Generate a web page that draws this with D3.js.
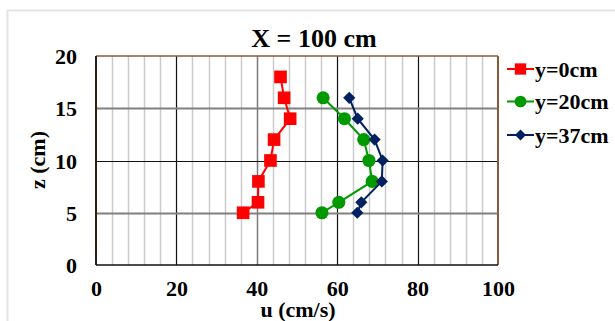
<!DOCTYPE html>
<html>
<head>
<meta charset="utf-8">
<script src="https://cdn.jsdelivr.net/npm/d3@7"></script>
<style>
  body { margin: 0; background: #fff; }
  text { font-family: "Liberation Serif", "Times New Roman", serif; font-weight: bold; fill: #000; }
</style>
</head>
<body>
<div id="chart"></div>
<script>
// values
const zY0 = [5, 6, 8, 10, 12, 14, 16, 18];
const uY0 = [36.6, 40.3, 40.4, 43.4, 44.3, 48.3, 46.8, 45.9];
const zY20 = [5, 6, 8, 10, 12, 14, 16];
const uY20 = [56.2, 60.4, 68.7, 67.9, 66.6, 61.8, 56.5];
const zY37 = [5, 6, 8, 10, 12, 14, 16];
const uY37 = [65.0, 66.0, 71.1, 71.3, 69.3, 65.1, 63.0];
const seriesNames = ['y=0cm', 'y=20cm', 'y=37cm'];
const xTicks = [0, 20, 40, 60, 80, 100];
const yTicks = [0, 5, 10, 15, 20];

const width = 615, height = 321;
const margin = { top: 56, right: 117, bottom: 56, left: 96 };

const svg = d3.select('#chart').append('svg')
  .attr('width', width).attr('height', height);

// outer chart frame (light grey)
svg.append('path')
  .attr('d', `M7.5,${height} V10.5 H${width}`)
  .attr('fill', 'none').attr('stroke', '#e3e3e3').attr('stroke-width', 2);

const x = d3.scaleLinear().domain([0, 100]).range([margin.left, width - margin.right]);
const y = d3.scaleLinear().domain([0, 20]).range([height - margin.bottom, margin.top]);

const grid = svg.append('g');

// minor vertical grid every 4 units
grid.selectAll('line.minor')
  .data(d3.range(4, 100, 4).filter((d) => d % 20 !== 0))
  .join('line')
  .attr('x1', (d) => Math.round(x(d)) + 0.5).attr('x2', (d) => Math.round(x(d)) + 0.5)
  .attr('y1', y(20)).attr('y2', y(0))
  .attr('stroke', '#cbcbcb').attr('stroke-width', 1.5);

// major vertical grid
grid.selectAll('line.vmajor')
  .data([20, 40, 60, 80])
  .join('line')
  .attr('x1', (d) => Math.round(x(d)) + 0.5).attr('x2', (d) => Math.round(x(d)) + 0.5)
  .attr('y1', y(20)).attr('y2', y(0))
  .attr('stroke', (d) => (d === 40 ? '#7a7a7a' : '#111'))
  .attr('stroke-width', (d) => (d === 40 ? 1.5 : 1.2));

// horizontal grid
grid.selectAll('line.hmajor')
  .data([5, 10, 15])
  .join('line')
  .attr('x1', x(0)).attr('x2', x(100))
  .attr('y1', (d) => Math.round(y(d)) + 0.5).attr('y2', (d) => Math.round(y(d)) + 0.5)
  .attr('stroke', (d) => (d === 10 ? '#111' : '#808080'))
  .attr('stroke-width', (d) => (d === 10 ? 1.2 : 2));

// plot border: top and right brown, left dark, bottom black
svg.append('line').attr('x1', x(0)).attr('x2', x(100)).attr('y1', y(20)).attr('y2', y(20))
  .attr('stroke', '#8a5a3a').attr('stroke-width', 1.5);
svg.append('line').attr('x1', x(100)).attr('x2', x(100)).attr('y1', y(20)).attr('y2', y(0))
  .attr('stroke', '#8a5a3a').attr('stroke-width', 2);
svg.append('line').attr('x1', x(0)).attr('x2', x(0)).attr('y1', y(20)).attr('y2', y(0))
  .attr('stroke', '#2b1d12').attr('stroke-width', 2);
svg.append('line').attr('x1', x(0)).attr('x2', x(100)).attr('y1', y(0)).attr('y2', y(0))
  .attr('stroke', '#111').attr('stroke-width', 1.5);

// axes (labels only, Excel-like)
const xAxis = svg.append('g')
  .attr('transform', `translate(0,${y(0)})`)
  .call(d3.axisBottom(x).tickValues(xTicks).tickSize(0).tickPadding(20));
xAxis.select('.domain').remove();
xAxis.selectAll('text').style('font-size', '22px').attr('dy', '0.5em');

const yAxis = svg.append('g')
  .attr('transform', `translate(${x(0)},0)`)
  .call(d3.axisLeft(y).tickValues(yTicks).tickSize(0).tickPadding(19));
yAxis.select('.domain').remove();
yAxis.selectAll('text').style('font-size', '22px').attr('dy', '0.35em');

// titles
svg.append('text').attr('x', 314).attr('y', 47).attr('text-anchor', 'middle')
  .style('font-size', '26px').text('X = 100 cm');
svg.append('text').attr('x', 298).attr('y', 317).attr('text-anchor', 'middle')
  .style('font-size', '22px').text('u (cm/s)');
svg.append('text').attr('transform', 'translate(45,160) rotate(-90)').attr('text-anchor', 'middle')
  .style('font-size', '22px').text('z (cm)');

// series
const series = [
  { name: seriesNames[0], u: uY0, z: zY0, color: '#ff0000', symbol: d3.symbolSquare, size: 160 },
  { name: seriesNames[1], u: uY20, z: zY20, color: '#009a00', symbol: d3.symbolCircle, size: 135 },
  { name: seriesNames[2], u: uY37, z: zY37, color: '#002060', symbol: d3.symbolDiamond2, size: 95 },
];

const line = d3.line().x((d) => x(d[0])).y((d) => y(d[1]));

series.forEach((s) => {
  const pts = s.u.map((u, i) => [u, s.z[i]]);
  const g = svg.append('g');
  g.append('path').datum(pts).attr('d', line)
    .attr('fill', 'none').attr('stroke', s.color).attr('stroke-width', 2);
  g.selectAll('path.pt').data(pts).join('path')
    .attr('class', 'pt')
    .attr('transform', (d) => `translate(${x(d[0])},${y(d[1])})`)
    .attr('d', d3.symbol().type(s.symbol).size(s.size))
    .attr('fill', s.color);
});

// legend
const legend = svg.append('g').attr('transform', 'translate(507,0)');
const rowY = [69, 101.5, 135];
series.forEach((s, i) => {
  const row = legend.append('g').attr('transform', `translate(0,${rowY[i]})`);
  row.append('line').attr('x1', 0).attr('x2', 27).attr('stroke', s.color).attr('stroke-width', 2);
  row.append('path').attr('transform', 'translate(13.5,0)')
    .attr('d', d3.symbol().type(s.symbol).size(s.size * 0.8)).attr('fill', s.color);
  row.append('text').attr('x', 28).attr('dy', '0.35em')
    .style('font-size', '22px').text(s.name);
});
</script>
</body>
</html>
